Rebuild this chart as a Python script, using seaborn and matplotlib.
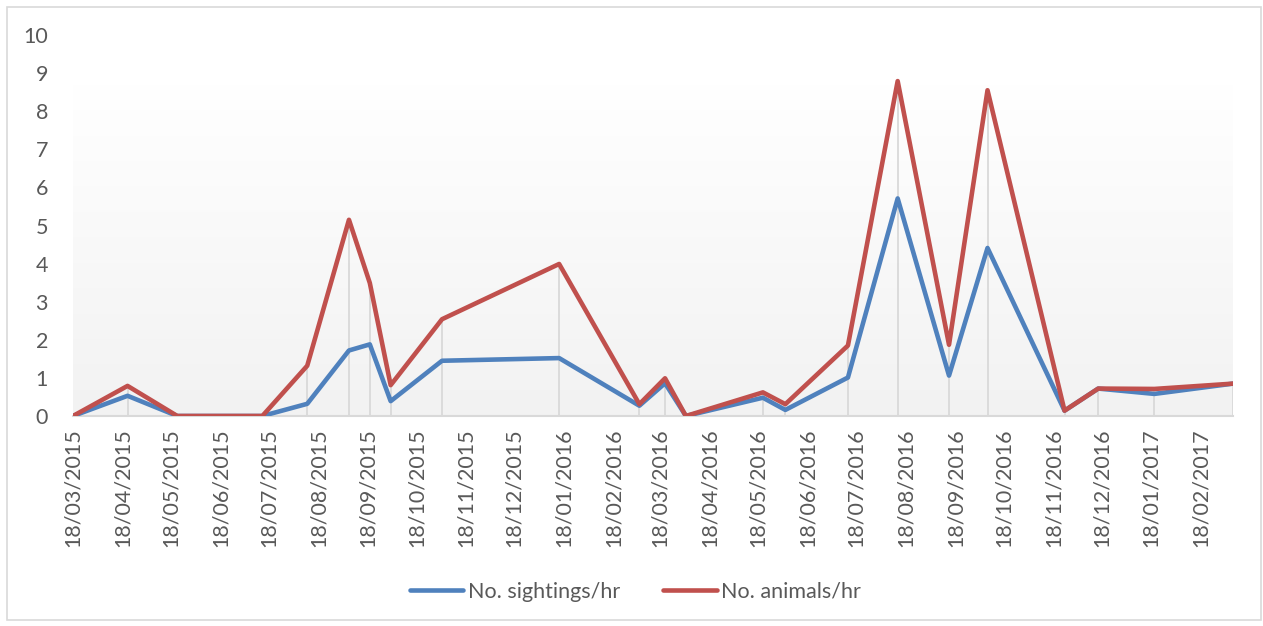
import numpy as np
import pandas as pd
import matplotlib
matplotlib.use("Agg")
import matplotlib.pyplot as plt
import matplotlib.dates as mdates
from matplotlib.patches import Rectangle
from matplotlib.lines import Line2D
import seaborn as sns

# ---- data ----
dates = ['2015-03-18', '2015-04-21', '2015-05-22', '2015-07-14', '2015-08-11',
         '2015-09-06', '2015-09-19', '2015-10-02', '2015-11-03', '2016-01-15',
         '2016-03-05', '2016-03-21', '2016-04-03', '2016-05-21', '2016-06-04',
         '2016-07-13', '2016-08-13', '2016-09-14', '2016-10-08', '2016-11-25',
         '2016-12-16', '2017-01-20', '2017-03-10']
sightings = [0, 0.53, 0, 0, 0.32, 1.72, 1.88, 0.39, 1.45, 1.52, 0.27, 0.86, 0,
             0.48, 0.16, 1.01, 5.71, 1.06, 4.41, 0.14, 0.72, 0.58, 0.85]
animals = [0, 0.79, 0, 0, 1.32, 5.15, 3.49, 0.81, 2.54, 3.99, 0.31, 0.99, 0,
           0.62, 0.31, 1.85, 8.79, 1.87, 8.55, 0.14, 0.72, 0.71, 0.85]
series_names = ['No. sightings/hr', 'No. animals/hr']
colors = ['#4f81bd', '#c0504d']
y_ticks = list(range(0, 11))

sns.set_theme(style="white")
plt.rcParams['font.family'] = ['Lato', 'DejaVu Sans']

dt = pd.to_datetime(dates)
df = pd.DataFrame({'date': list(dt) * 2,
                   'value': sightings + animals,
                   'series': [series_names[0]] * len(dt) + [series_names[1]] * len(dt)})

fig = plt.figure(figsize=(12.63, 6.26), dpi=100)
ax = fig.add_axes([73 / 1263, 1 - 416 / 626, 1160 / 1263, 381 / 626])

# chart border
fig.patches.append(Rectangle((7 / 1263, 6 / 626), 1254 / 1263, 613 / 626,
                             transform=fig.transFigure, fill=False,
                             edgecolor='#d9d9d9', linewidth=1.2))

# gradient plot-area fill
grad = np.linspace(0, 1, 256).reshape(-1, 1)
cmap = matplotlib.colors.LinearSegmentedColormap.from_list('g', ['#f2f2f2', '#ffffff'])
ax.imshow(grad, aspect='auto', cmap=cmap, origin='lower',
          extent=[0, 1, 0, 0.87], transform=ax.transAxes, zorder=0)

# drop lines
top = np.maximum(sightings, animals)
ax.vlines(dt, 0, top, colors='#d9d9d9', linewidth=1.3, zorder=1)

sns.lineplot(data=df, x='date', y='value', hue='series', palette=colors,
             hue_order=series_names, sort=False, linewidth=3.3, ax=ax,
             legend=False, zorder=3)

ax.set_xlim(dt[0], dt[-1])
ax.set_ylim(0, 10)
ax.set_yticks(y_ticks)
ax.xaxis.set_major_locator(mdates.MonthLocator(bymonthday=18))
ax.xaxis.set_major_formatter(mdates.DateFormatter('%d/%m/%Y'))
ax.set_xlabel('')
ax.set_ylabel('')
for s in ['top', 'right', 'left']:
    ax.spines[s].set_visible(False)
ax.spines['bottom'].set_color('#d9d9d9')
ax.spines['bottom'].set_linewidth(1.5)
ax.spines['bottom'].set_zorder(2)
ax.tick_params(axis='x', length=0, pad=9, labelsize=15.5, labelcolor='#595959',
               labelrotation=90)
ax.tick_params(axis='y', length=0, pad=18, labelsize=15.5, labelcolor='#595959')
ax.set_facecolor('white')

handles = [Line2D([0], [0], color=c, linewidth=3.3) for c in colors]
fig.legend(handles, series_names, loc='center', bbox_to_anchor=(0.503, 1 - 592 / 626),
           ncol=2, frameon=False, fontsize=15.5, labelcolor='#595959',
           handlelength=2.5, handletextpad=0.2, columnspacing=2.0)

fig.savefig('out.png', dpi=100)
